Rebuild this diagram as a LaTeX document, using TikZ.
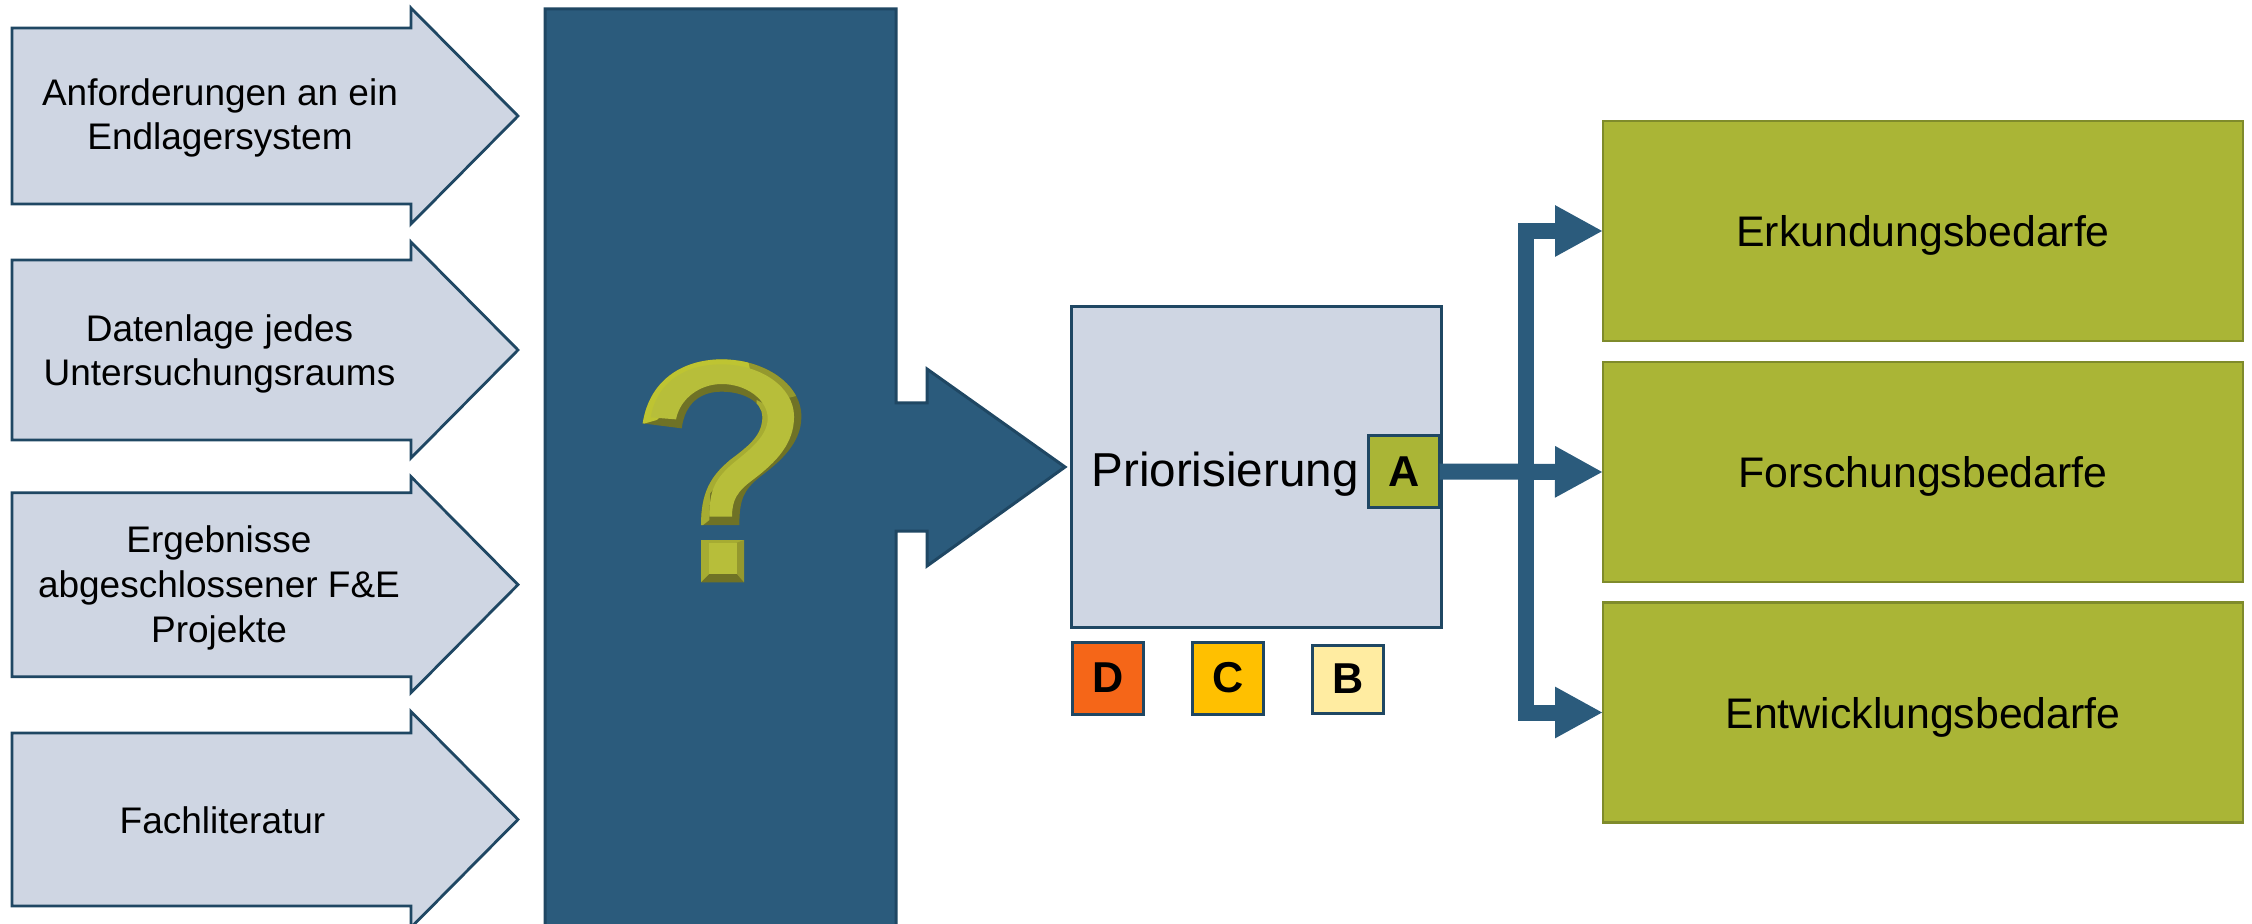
\documentclass[tikz,border=0pt]{standalone}
\usepackage{fontspec}
\setmainfont{Liberation Sans}
\usetikzlibrary{arrows.meta}
\definecolor{navy}{HTML}{2B5B7C}
\definecolor{navyline}{HTML}{1F4763}
\definecolor{pale}{HTML}{CFD6E3}
\definecolor{olive}{HTML}{AAB536}
\definecolor{oliveline}{HTML}{7F8B2B}
\definecolor{qface}{HTML}{B7BE3A}
\definecolor{qtop}{HTML}{BEC432}
\definecolor{qlight}{HTML}{A6AC32}
\definecolor{qdark}{HTML}{6F7226}
\definecolor{qmid}{HTML}{94982E}
\definecolor{dcol}{HTML}{F56618}
\definecolor{ccol}{HTML}{FFC000}
\definecolor{bcol}{HTML}{FFECA1}
\tikzset{
  inbox/.style={fill=pale,draw=navyline,line width=1.4pt,miter limit=10},
  intext/.style={font=\fontsize{18.5}{22.4}\selectfont,align=center,inner sep=0pt},
  needbox/.style={fill=olive,draw=oliveline,line width=1.2pt,minimum width=320pt,minimum height=110pt,
    inner sep=0pt,outer sep=0pt,font=\fontsize{21.4}{24}\selectfont,text height=15.5pt,text depth=0pt},
  letterbox/.style={draw=navyline,line width=1.5pt,minimum width=35.5pt,minimum height=36pt,inner sep=0pt,outer sep=0pt,
    font=\fontsize{21.6}{24}\selectfont\bfseries},
  connector/.style={draw=navy,line width=8pt,-{Triangle[length=24pt,width=24pt]},line join=miter},
}
\newcommand{\inarrow}[2]{% centre y, body half height
  \path[inbox] (12,#1-#2) -- (411,#1-#2) -- (411,#1-108) -- (518,#1) -- (411,#1+108) -- (411,#1+#2) -- (12,#1+#2) -- cycle;
}
\begin{document}
\begin{tikzpicture}[x=0.5pt,y=-0.5pt]
\useasboundingbox (0,0) rectangle (2252,924);
\clip (0,0) rectangle (2252,924);
% input arrows
\inarrow{116}{88}
\inarrow{350}{90}
\inarrow{584.7}{92}
\inarrow{819.5}{86.5}
\node[intext] (t1) at (220,118) {Anforderungen an ein\\Endlagersystem};
\node[intext] (t2) at (219.5,354) {Datenlage jedes\\Untersuchungsraums};
\node[intext] (t3) at (219,588) {Ergebnisse\\abgeschlossener F\&E\\Projekte};
\node[intext] (t4) at (222.5,820) {Fachliteratur};
% big block arrow
\path[fill=navy,draw=navyline,line width=1.5pt,miter limit=10]
  (545,9) -- (896,9) -- (896,403) -- (927,403) -- (927,369) -- (1065,467) -- (927,566) -- (927,531) -- (896,531) -- (896,940) -- (545,940) -- cycle;
% question mark
\begin{scope}[shift={(600,320)},x=0.1667pt,y=-0.1667pt]
  \def\qouter{(128,310) .. controls (150,170) and (260,118) .. (365,118) .. controls (490,118) and (604,190) .. (604,290) .. controls (604,370) and (540,425) .. (480,470) .. controls (430,510) and (418,540) .. (418,615) -- (303,615) .. controls (303,520) and (330,470) .. (390,420) .. controls (450,375) and (487,345) .. (487,290) .. controls (487,245) and (430,215) .. (365,215) .. controls (300,215) and (255,250) .. (245,325) -- cycle}
  \fill[qdark] \qouter;
  \begin{scope}
    \clip \qouter;
    \fill[qmid] (400,100) -- (520,100) -- (620,220) -- (540,240) -- (440,150) -- cycle;
    \fill[qtop] (100,100) -- (440,100) -- (450,150) -- (350,170) -- (240,240) -- (170,300) -- (100,320) -- cycle;
    \fill[qlight] (470,240) -- (510,260) -- (510,340) -- (400,440) -- (330,520) -- (328,600) -- (303,620) -- (290,620) -- (290,480) -- (400,400) -- (470,340) -- cycle;
  \end{scope}
  \fill[qface] (152,292) -- (228,298) .. controls (240,235) and (300,192) .. (365,192) .. controls (440,192) and (503,240) .. (503,295) .. controls (503,345) and (455,385) .. (405,425) .. controls (345,475) and (328,510) .. (328,590) -- (396,590) .. controls (396,540) and (410,515) .. (460,478) .. controls (530,425) and (582,370) .. (582,290) .. controls (582,200) and (480,133) .. (365,133) .. controls (250,133) and (170,190) .. (152,292) -- cycle;
  % dot
  \fill[qlight] (303,660) rectangle (432,787);
  \fill[qmid] (432,660) -- (432,787) -- (410,762) -- (410,668) -- cycle;
  \fill[qdark] (303,787) -- (432,787) -- (410,762) -- (328,762) -- cycle;
  \fill[qface] (328,668) rectangle (410,762);
\end{scope}
% priorisation box
\node[fill=pale,draw=navyline,line width=1.5pt,minimum width=185pt,minimum height=160.5pt,inner sep=0pt,outer sep=0pt] (prio) at (1256,467) {};
\node[font=\fontsize{23.8}{26}\selectfont,anchor=base,inner sep=0pt] (priotext) at (1225,487) {Priorisierung};
\node[letterbox,fill=olive] (A) at (1404,471.5) {A};
\node[letterbox,fill=dcol] (D) at (1108,678) {D};
\node[letterbox,fill=ccol] (C) at (1228,678) {C};
\node[letterbox,fill=bcol,minimum height=34pt] (B) at (1348,679) {B};
% need boxes
\node[needbox] (E) at (1923,231) {Erkundungsbedarfe};
\node[needbox] (F) at (1923,472) {Forschungsbedarfe};
\node[needbox] (G) at (1923,712.5) {Entwicklungsbedarfe};
% connectors
\coordinate (branch) at (1525.5,472);
\draw[connector] (A.east) -- (F.west);
\draw[connector] (branch) |- (E.west);
\draw[connector] (branch) |- (G.west);
\end{tikzpicture}
\end{document}
